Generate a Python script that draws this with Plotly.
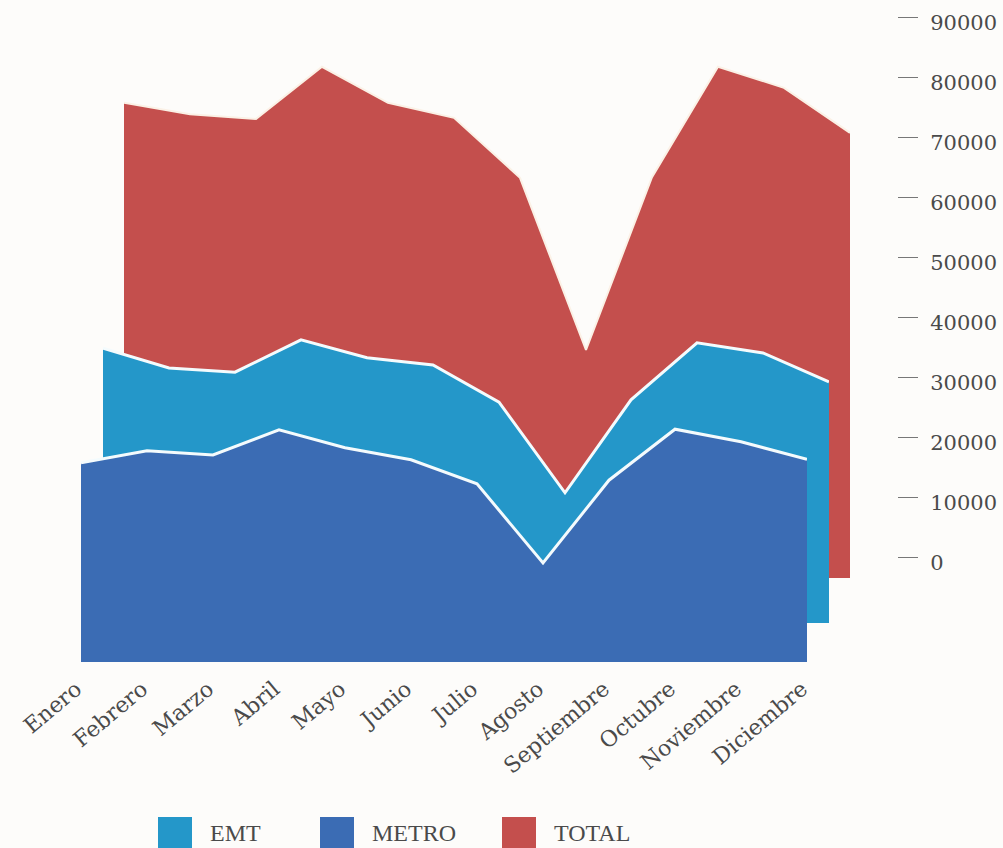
import plotly.graph_objects as go

# ---- data ----
months = ["Enero", "Febrero", "Marzo", "Abril", "Mayo", "Junio", "Julio",
          "Agosto", "Septiembre", "Octubre", "Noviembre", "Diciembre"]
metro = [33200, 35200, 34500, 38700, 35700, 33700, 29700, 16500, 30300, 38800, 36700, 33800]
emt = [45800, 42500, 41800, 47200, 44200, 43000, 36800, 21700, 37200, 46700, 45000, 40200]
total = [79200, 77300, 76500, 85200, 79200, 76700, 66700, 38000, 66800, 85200, 81700, 74200]
tick_vals = [0, 10000, 20000, 30000, 40000, 50000, 60000, 70000, 80000, 90000]

# ---- styling / layout constants (pixels) ----
W, H = 1003, 848
C_TOTAL = "#c44f4d"
C_EMT = "#2497c9"
C_METRO = "#3b6cb4"
BG = "#fdfcfa"
TXT = "#4a4a4a"
YMAX = 95000
PX_PER_UNIT = 0.006


def xdom(left_px, right_px):
    return [left_px / W, right_px / W]


def ydom(base_px, ymax):
    top = base_px - ymax * PX_PER_UNIT
    return [(H - base_px) / H, (H - top) / H]


fig = go.Figure()

# back layer: TOTAL
fig.add_trace(go.Scatter(x=months, y=total, name="TOTAL", xaxis="x", yaxis="y",
                         mode="lines", fill="tozeroy", fillcolor=C_TOTAL,
                         line=dict(color="#fbf1e6", width=2), showlegend=False,
                         hoverinfo="skip"))
# middle layer: EMT
fig.add_trace(go.Scatter(x=months, y=emt, name="EMT", xaxis="x2", yaxis="y2",
                         mode="lines", fill="tozeroy", fillcolor=C_EMT,
                         line=dict(color="#f4fbfd", width=3), showlegend=False,
                         hoverinfo="skip"))
# front layer: METRO
fig.add_trace(go.Scatter(x=months, y=metro, name="METRO", xaxis="x3", yaxis="y3",
                         mode="lines", fill="tozeroy", fillcolor=C_METRO,
                         line=dict(color="#f4fbfd", width=3), showlegend=False,
                         hoverinfo="skip"))
# value axis holder (no marks)
fig.add_trace(go.Scatter(x=[], y=[], xaxis="x", yaxis="y4", showlegend=False,
                         hoverinfo="skip"))

hidden_x = dict(range=[0, 11], showgrid=False, zeroline=False, showline=False,
                showticklabels=False, ticks="", automargin=False)
hidden_y = dict(range=[0, YMAX], showgrid=False, zeroline=False, showline=False,
                showticklabels=False, ticks="", automargin=False)

fig.update_layout(
    width=W, height=H,
    margin=dict(l=0, r=0, t=0, b=0, pad=0),
    paper_bgcolor=BG,
    plot_bgcolor="rgba(0,0,0,0)",
    showlegend=False,
    xaxis=dict(hidden_x, domain=xdom(124, 850), anchor="y"),
    yaxis=dict(hidden_y, domain=ydom(578, YMAX), anchor="x"),
    xaxis2=dict(hidden_x, domain=xdom(103, 829), anchor="y2"),
    yaxis2=dict(hidden_y, domain=ydom(623, YMAX), anchor="x2"),
    xaxis3=dict(range=[0, 11], domain=xdom(81, 807), anchor="y3",
                showgrid=False, zeroline=False, showline=False, ticks="",
                automargin=False, tickangle=-40, ticklabelstandoff=9,
                ticklabelshift=-5, ticklabeloverflow="allow",
                tickfont=dict(family="DejaVu Serif", size=22, color=TXT)),
    yaxis3=dict(hidden_y, domain=ydom(662, YMAX), anchor="x3"),
    yaxis4=dict(range=[0, 92000], domain=ydom(557, 92000), anchor="free",
                position=897 / W, side="right", showgrid=False, zeroline=False,
                showline=False, ticks="outside", ticklen=20, tickwidth=1,
                tickcolor="#777777", tickvals=tick_vals,
                ticktext=[str(v) for v in tick_vals], automargin=False,
                ticklabelstandoff=8, ticklabelshift=6,
                ticklabeloverflow="allow",
                tickfont=dict(family="DejaVu Serif", size=21, color=TXT)),
)

# legend built from shapes + text
legend_items = [("EMT", C_EMT, 158), ("METRO", C_METRO, 320), ("TOTAL", C_TOTAL, 502)]
for label, color, x0 in legend_items:
    fig.add_shape(type="rect", xref="paper", yref="paper",
                  x0=x0 / W, x1=(x0 + 34) / W, y0=-0.01, y1=(H - 817) / H,
                  fillcolor=color, line=dict(width=0))
    fig.add_annotation(text=label, xref="paper", yref="paper",
                       x=(x0 + 50) / W, y=(H - 833) / H, xanchor="left",
                       yanchor="middle", showarrow=False,
                       font=dict(family="Liberation Serif", size=24, color=TXT))

fig.write_html("out.html")
